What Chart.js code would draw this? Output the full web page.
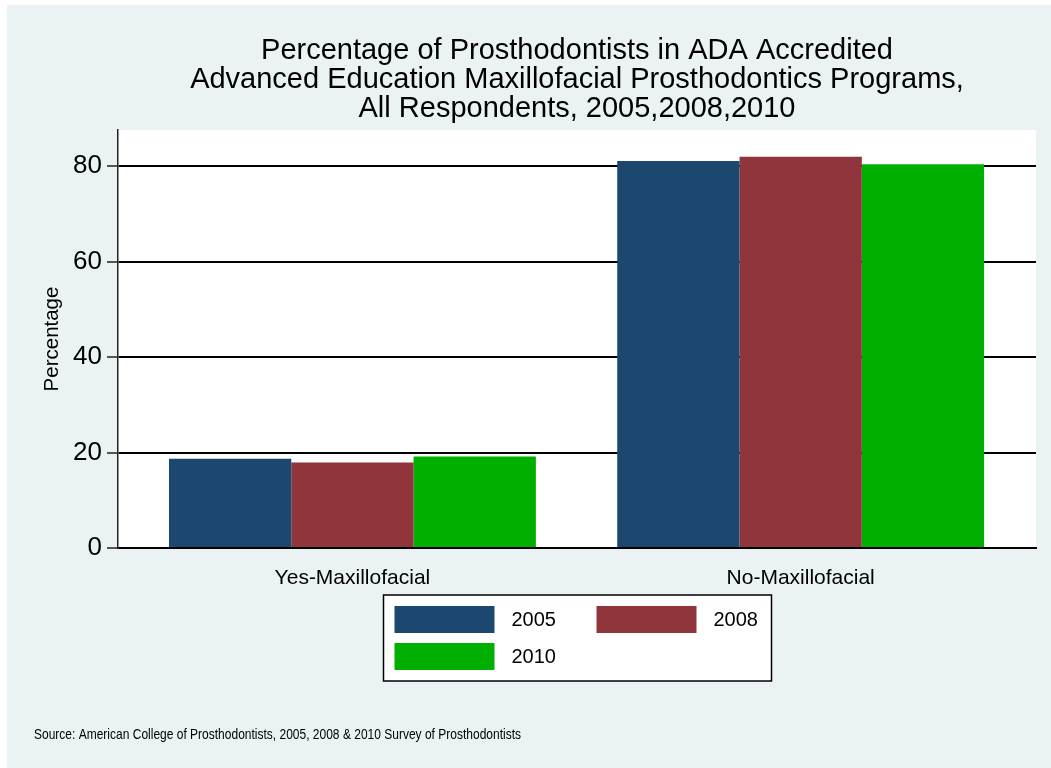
<!DOCTYPE html>
<html>
<head>
<meta charset="utf-8">
<script src="https://cdn.jsdelivr.net/npm/chart.js@4.4.0/dist/chart.umd.min.js"></script>
<style>
  html, body { margin: 0; padding: 0; background: #fff; }
  #wrap { width: 1051px; height: 768px; }
</style>
</head>
<body>
<div id="wrap"><canvas id="chart"></canvas></div>
<script>
// Chart data
const categories = ['Yes-Maxillofacial', 'No-Maxillofacial'];
const years = ['2005', '2008', '2010'];
const pct2005 = [18.7, 81.1];
const pct2008 = [17.9, 82.0];
const pct2010 = [19.2, 80.4];
const yTicks = [0, 20, 40, 60, 80];
const titleLines = [
    'Percentage of Prosthodontists in ADA Accredited',
    'Advanced Education Maxillofacial Prosthodontics Programs,',
    'All Respondents, 2005,2008,2010'
];
const sourceNote = 'Source: American College of Prosthodontists, 2005, 2008 & 2010 Survey of Prosthodontists';

const FONT = '"Liberation Sans", Arial, Helvetica, sans-serif';
Chart.defaults.font.family = FONT;
Chart.defaults.color = '#000';

// Stata-like background: light frame, white plot region
const background = {
    id: 'background',
    beforeDraw(chart) {
        const { ctx, chartArea: a } = chart;
        ctx.save();
        ctx.fillStyle = '#fff';
        ctx.fillRect(0, 0, chart.width, chart.height);
        ctx.fillStyle = '#EAF2F3';
        ctx.fillRect(7, 5, chart.width - 7, chart.height - 5);
        ctx.fillStyle = '#fff';
        ctx.fillRect(a.left, a.top, a.right - a.left, a.bottom - a.top);
        ctx.restore();
    }
};

// Boxed two-column legend under the plot
const boxLegend = {
    id: 'boxLegend',
    afterDraw(chart) {
        const { ctx, chartArea: a } = chart;
        const cx = (a.left + a.right) / 2;
        const left = Math.round(cx - 194) + 0.5;
        const top = a.bottom + 47;
        ctx.save();
        ctx.fillStyle = '#fff';
        ctx.fillRect(left, top, 388, 86);
        ctx.strokeStyle = '#000';
        ctx.lineWidth = 1.5;
        ctx.strokeRect(left, top, 388, 86);
        ctx.font = '20px ' + FONT;
        ctx.textBaseline = 'middle';
        chart.data.datasets.forEach(function(ds, i) {
            const col = i % 2;
            const row = Math.floor(i / 2);
            const bx = left + 11 + col * 202;
            const by = top + 11 + row * 37;
            ctx.fillStyle = ds.backgroundColor;
            ctx.fillRect(bx, by, 100, 27);
            ctx.fillStyle = '#000';
            ctx.fillText(ds.label, bx + 117, by + 14);
        });
        ctx.restore();
    }
};

// Source note, bottom left
const sourceText = {
    id: 'sourceText',
    afterDraw(chart) {
        const ctx = chart.ctx;
        ctx.save();
        ctx.font = '15px "Liberation Sans Narrow", ' + FONT;
        const w = ctx.measureText(sourceNote).width;
        ctx.translate(34, 739);
        ctx.scale(487 / w, 1);
        ctx.fillStyle = '#000';
        ctx.textBaseline = 'alphabetic';
        ctx.fillText(sourceNote, 0, 0);
        ctx.restore();
    }
};

function toPoints(values) {
    return values.map(function(v, i) { return { x: i, y: v }; });
}

const ctx = document.getElementById('chart').getContext('2d');
new Chart(ctx, {
    type: 'bar',
    data: {
        datasets: [
            { label: years[0], data: toPoints(pct2005), backgroundColor: '#1C4870' },
            { label: years[1], data: toPoints(pct2008), backgroundColor: '#90353B' },
            { label: years[2], data: toPoints(pct2010), backgroundColor: '#00AF00' }
        ]
    },
    options: {
        responsive: true,
        maintainAspectRatio: false,
        animation: false,
        categoryPercentage: 0.8185,
        barPercentage: 1,
        borderWidth: 0,
        layout: { padding: { left: 34, right: 15, top: 0, bottom: 0 } },
        plugins: {
            legend: { display: false },
            tooltip: { enabled: false },
            title: {
                display: true,
                text: titleLines,
                fullSize: false,
                color: '#000',
                font: { size: 29, weight: 'normal', lineHeight: 1.0 },
                padding: { top: 36.5, bottom: 6.5 }
            }
        },
        scales: {
            x: {
                type: 'linear',
                offset: false,
                min: -0.523,
                max: 1.525,
                afterBuildTicks: function(s) {
                    s.ticks = categories.map(function(c, i) { return { value: i }; });
                },
                afterFit: function(s) { s.height = 220; },
                grid: { display: false },
                border: { display: true, color: '#000', width: 2 },
                ticks: {
                    callback: function(v) { return categories[v]; },
                    font: { size: 21 },
                    padding: 10,
                    color: '#000',
                    autoSkip: false,
                    maxRotation: 0
                }
            },
            y: {
                min: 0,
                max: 87.6,
                afterBuildTicks: function(s) {
                    s.ticks = yTicks.map(function(v) { return { value: v }; });
                },
                afterFit: function(s) { s.width = 84; },
                grid: { color: '#000', lineWidth: 2, tickLength: 11, tickColor: '#222', tickWidth: 1.5 },
                border: { display: true, color: '#222', width: 1.5 },
                ticks: { font: { size: 26 }, padding: 5, color: '#000' },
                title: {
                    display: true,
                    text: 'Percentage',
                    color: '#000',
                    font: { size: 20.5 },
                    padding: { top: 6, bottom: 0 }
                }
            }
        }
    },
    plugins: [background, boxLegend, sourceText]
});
</script>
</body>
</html>
